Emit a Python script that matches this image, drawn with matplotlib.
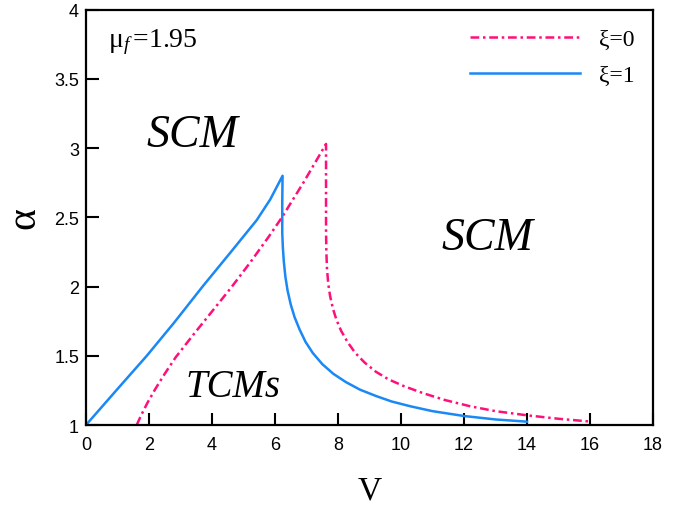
import matplotlib
matplotlib.use("Agg")
import matplotlib.pyplot as plt

plt.rcParams['font.family'] = ['Liberation Serif', 'DejaVu Serif']
plt.rcParams['mathtext.fontset'] = 'custom'
plt.rcParams['mathtext.rm'] = 'Liberation Serif'
plt.rcParams['mathtext.it'] = 'Liberation Serif:italic'

# xi = 0 boundary (dash-dot)
v_xi0 = [1.61, 1.75, 1.95, 2.2, 2.5, 2.85, 3.4, 4.0, 4.6, 5.2, 5.8, 6.22, 6.9, 7.62,
         7.62, 7.62, 7.63, 7.65, 7.69, 7.75, 7.84, 7.95, 8.1, 8.3, 8.55, 8.85,
         9.2, 9.6, 10.1, 10.7, 11.4, 12.2, 13.0, 14.0, 15.0, 16.0]
a_xi0 = [1.0, 1.07, 1.16, 1.26, 1.37, 1.49, 1.65, 1.82, 1.99, 2.17, 2.36, 2.50, 2.75, 3.03,
         2.7, 2.4, 2.25, 2.13, 2.02, 1.93, 1.84, 1.76, 1.68, 1.60, 1.52, 1.45,
         1.385, 1.33, 1.28, 1.23, 1.18, 1.135, 1.10, 1.07, 1.045, 1.025]

# xi = 1 boundary (solid)
v_xi1 = [0.0, 1.0, 1.93, 2.8, 3.7, 4.6, 5.42, 5.85, 6.24,
         6.23, 6.23, 6.25, 6.28, 6.33, 6.40, 6.50, 6.62, 6.78, 6.97, 7.2,
         7.5, 7.85, 8.25, 8.7, 9.2, 9.7, 10.3, 11.0, 12.0, 13.0, 14.0]
a_xi1 = [1.0, 1.26, 1.50, 1.74, 2.0, 2.25, 2.48, 2.63, 2.80,
         2.6, 2.39, 2.28, 2.18, 2.07, 1.97, 1.87, 1.78, 1.69, 1.60, 1.52,
         1.44, 1.37, 1.31, 1.255, 1.21, 1.17, 1.135, 1.10, 1.065, 1.04, 1.024]

fig = plt.figure(figsize=(6.89, 5.06), dpi=100)
ax = fig.add_axes([0.1248, 0.1581, 0.823, 0.8208])

pink = '#ff0f7b'
blue = '#1a88f5'

ax.plot(v_xi0, a_xi0, color=pink, lw=1.8, dashes=(3.5, 1.5, 1, 1.5), label='ξ=0')
ax.plot(v_xi1, a_xi1, color=blue, lw=1.8, label='ξ=1')

ax.set_xlim(0, 18)
ax.set_ylim(1, 4)
ax.set_xticks(range(0, 19, 2))
ax.set_yticks([1, 1.5, 2, 2.5, 3, 3.5, 4])
ax.set_yticklabels(['1', '1.5', '2', '2.5', '3', '3.5', '4'])
ax.tick_params(direction='in', length=9, width=1.5, labelsize=13)
ax.tick_params(axis='x', pad=8)
ax.tick_params(axis='y', pad=5)
for lab in ax.get_xticklabels() + ax.get_yticklabels():
    lab.set_family('Liberation Sans')
for sp in ax.spines.values():
    sp.set_linewidth(1.6)

ax.set_xlabel('V', fontsize=24, labelpad=16)
ax.set_ylabel('α', fontsize=30, labelpad=8)

ax.text(0.7, 3.77, r'$\mathrm{\mu}_f\,$=1.95', fontsize=20, va='center')
ax.text(3.37, 3.1, 'SCM', fontsize=33, style='italic', ha='center', va='center')
ax.text(12.74, 2.35, 'SCM', fontsize=33, style='italic', ha='center', va='center')
ax.text(4.67, 1.28, 'TCMs', fontsize=28, style='italic', ha='center', va='center')

ax.legend(loc='upper right', frameon=False, fontsize=17, handlelength=4.65,
          handletextpad=0.8, labelspacing=0.6, borderaxespad=0.4)

fig.savefig('out.png', dpi=100)
